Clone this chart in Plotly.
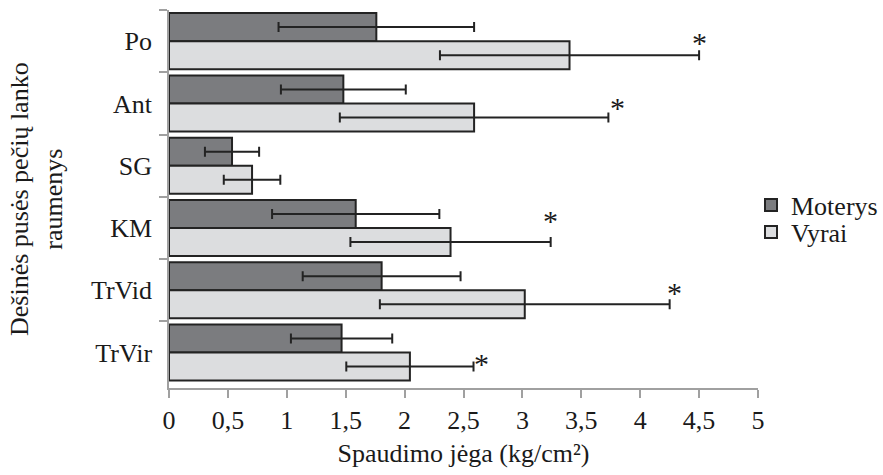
import plotly.graph_objects as go

categories = ["Po", "Ant", "SG", "KM", "TrVid", "TrVir"]
moterys = [1.76, 1.48, 0.535, 1.585, 1.805, 1.465]
moterys_sd = [0.83, 0.53, 0.23, 0.71, 0.67, 0.43]
vyrai = [3.40, 2.59, 0.705, 2.39, 3.02, 2.045]
vyrai_sd = [1.10, 1.14, 0.24, 0.85, 1.23, 0.54]
significant = [True, True, False, True, True, True]
x_ticks = [0, 0.5, 1, 1.5, 2, 2.5, 3, 3.5, 4, 4.5, 5]
x_tick_labels = ["0", "0,5", "1", "1,5", "2", "2,5", "3", "3,5", "4", "4,5", "5"]

# asterisk placement tweaks (data-unit x shift, pixel lift above Vyrai error line)
star_dx = [0.0, 0.08, 0.0, 0.0, 0.04, 0.07]
star_lift = [13, 10, 0, 21, 12, 3]

FONT = "Times New Roman, Liberation Serif, Times, serif"
TXT = "#1a1a1a"
EDGE = "#232323"
FS = 26

fig = go.Figure()
fig.add_trace(go.Bar(
    name="Moterys", y=categories, x=moterys, orientation="h", legend="legend",
    marker=dict(color="#7b7c7f", line=dict(color=EDGE, width=2)),
    error_x=dict(type="data", array=moterys_sd, color=EDGE, thickness=2, width=5),
))
fig.add_trace(go.Bar(
    name="Vyrai", y=categories, x=vyrai, orientation="h", legend="legend2",
    marker=dict(color="#dcdddf", line=dict(color=EDGE, width=2)),
    error_x=dict(type="data", array=vyrai_sd, color=EDGE, thickness=2, width=5),
))

annotations = []
for i, cat in enumerate(categories):
    if significant[i]:
        annotations.append(dict(
            x=vyrai[i] + vyrai_sd[i] + star_dx[i], y=i + 0.225, xref="x", yref="y",
            text="*", showarrow=False, xanchor="center", yanchor="middle",
            yshift=star_lift[i], font=dict(family=FONT, size=30, color=TXT),
        ))

annotations.append(dict(
    x=0, y=0.5, xref="paper", yref="paper", xanchor="center", yanchor="middle",
    xshift=36 - 169, text="Dešinės pusės pečių lanko<br>raumenys", textangle=-90,
    showarrow=False, font=dict(family=FONT, size=FS, color=TXT),
))

legend_style = dict(xanchor="left", yanchor="middle", x=(751 - 169) / 589,
                    font=dict(family=FONT, size=FS, color=TXT), bgcolor="rgba(0,0,0,0)",
                    itemwidth=30)

fig.update_layout(
    width=883, height=475,
    margin=dict(l=169, r=125, t=10, b=87, autoexpand=False),
    paper_bgcolor="white", plot_bgcolor="white",
    font=dict(family=FONT, size=FS, color=TXT),
    barmode="group", bargap=0.1, bargroupgap=0,
    showlegend=True,
    legend=dict(y=(388 - 205) / 378, **legend_style),
    legend2=dict(y=(388 - 232) / 378, **legend_style),
    annotations=annotations,
)
fig.update_xaxes(
    range=[0, 5], tickvals=x_ticks, ticktext=x_tick_labels, automargin=False,
    showgrid=False, zeroline=False, showline=True, linecolor="#a0a0a0", linewidth=1.5,
    ticks="outside", ticklen=8, tickcolor="#a0a0a0", tickwidth=1.5,
    tickfont=dict(family=FONT, size=FS, color=TXT),
    title=dict(text="Spaudimo jėga (kg/cm²)", font=dict(family=FONT, size=FS, color=TXT), standoff=10),
)
fig.update_yaxes(
    categoryorder="array", categoryarray=categories, autorange="reversed", automargin=False,
    showgrid=False, zeroline=False, showline=True, linecolor="#a0a0a0", linewidth=1.5,
    ticks="outside", ticklen=8, tickcolor="#a0a0a0", tickwidth=1.5, tickson="boundaries",
    tickfont=dict(family=FONT, size=FS, color=TXT), ticklabelstandoff=10,
)

fig.write_html("out.html")
